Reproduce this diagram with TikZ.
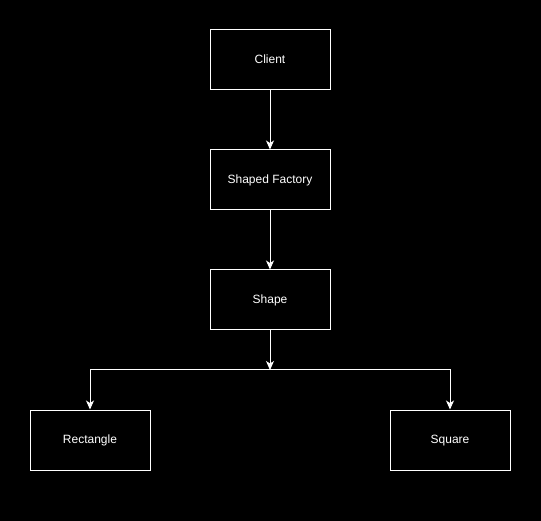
\documentclass[tikz,border=0pt]{standalone}
\usepackage{fontspec}
\setmainfont{Liberation Sans}
\usetikzlibrary{arrows.meta}
\begin{document}
\begin{tikzpicture}[x=1pt,y=-1pt,
  box/.style={draw=white,line width=1pt,minimum width=120pt,minimum height=60pt,
    inner sep=0pt,text=white,text height=8.6pt,text depth=2.4pt,
    font=\fontsize{12}{14}\selectfont},
  link/.style={draw=white,line width=1pt,-{Stealth[length=9pt,width=8pt,inset=2.5pt]}}]
  % dark canvas
  \fill[black] (0,0) rectangle (541,521);
  \useasboundingbox (0,0) rectangle (541,521);
  % class boxes
  \node[box] (client)  at (270,60)  {Client};
  \node[box] (factory) at (270,180) {Shaped Factory};
  \node[box] (shape)   at (270,300) {Shape};
  \node[box] (rect)    at (90,440)  {Rectangle};
  \node[box] (square)  at (450,440) {Square};
  % junction on the branching line
  \coordinate (split) at (270,370);
  % connectors
  \draw[link] (client) -- (factory);
  \draw[link] (factory) -- (shape);
  \draw[link] (shape) -- (split);
  \draw[link] (split) -| (rect);
  \draw[link] (split) -| (square);
\end{tikzpicture}
\end{document}
